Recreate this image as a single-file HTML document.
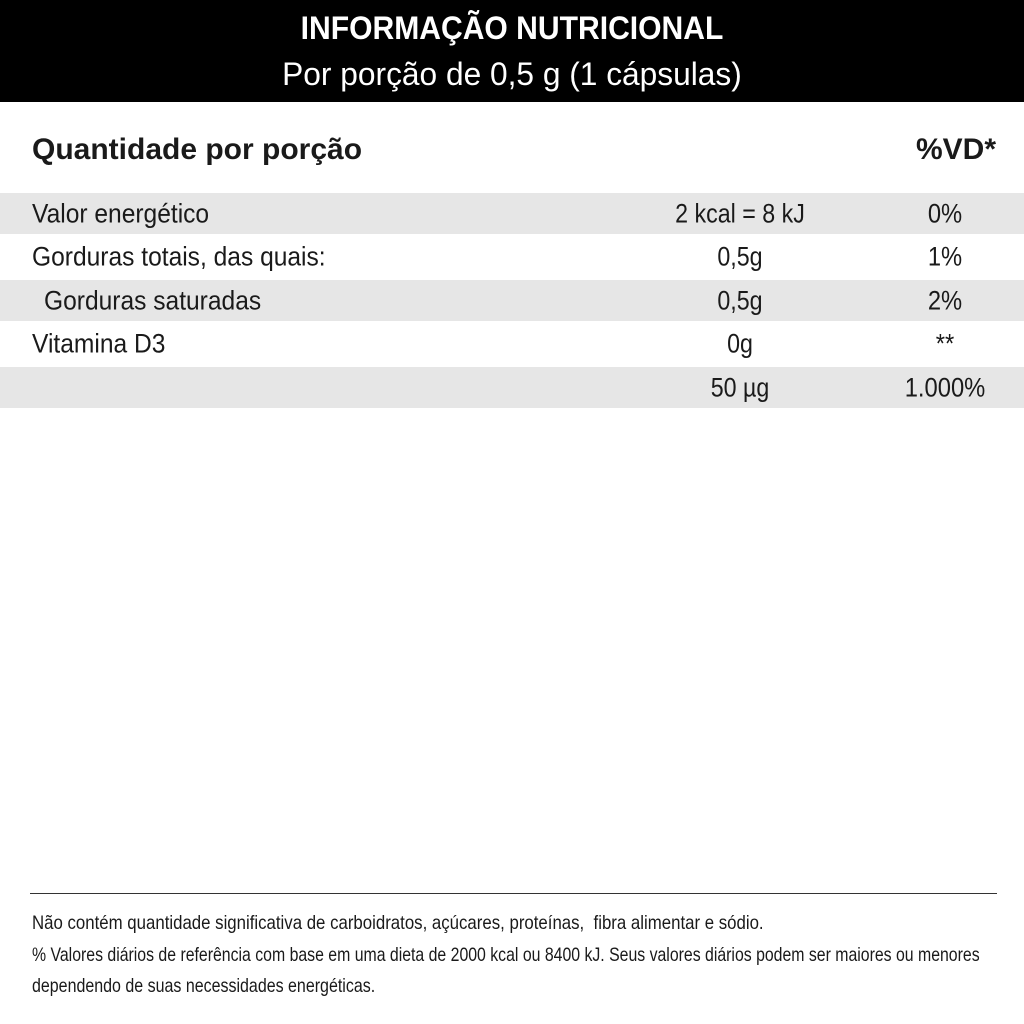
<!DOCTYPE html>
<html><head><meta charset="utf-8"><style>
body{margin:0;width:1024px;height:1024px;background:#fff;font-family:"Liberation Sans",sans-serif;color:#1a1a1a;position:relative;overflow:hidden}
.hdr{position:absolute;left:0;top:0;width:1024px;height:102px;background:#000;color:#fff;text-align:center}
.t1{position:absolute;top:10px;width:100%;font-size:32px;font-weight:bold;transform:scaleX(0.94)}
.t2{position:absolute;top:56px;width:100%;font-size:32px;transform:scaleX(0.99)}
.q{position:absolute;top:133px;left:32px;font-size:30px;font-weight:bold}
.vd{position:absolute;top:133px;right:28px;font-size:30px;font-weight:bold}
.row{position:absolute;left:0;width:1024px;font-size:27px;white-space:nowrap}
.row.g{background:#e6e6e6}
.row span{position:absolute;top:50%}
.a{left:32px;transform:translateY(-50%) scaleX(0.91);transform-origin:left center}
.b{left:740px;transform:translate(-50%,-50%) scaleX(0.86)}
.c{left:945px;transform:translate(-50%,-50%) scaleX(0.88)}
.line{position:absolute;left:30px;top:893px;width:967px;height:1px;background:#333}
.f{position:absolute;left:32px;font-size:19.5px;white-space:nowrap;transform-origin:left top}
</style></head><body>
<div class="hdr">
<div class="t1">INFORMAÇÃO NUTRICIONAL</div>
<div class="t2">Por porção de 0,5 g (1 cápsulas)</div>
</div>
<div class="q">Quantidade por porção</div>
<div class="vd">%VD*</div>
<div class="row g" style="top:193px;height:41px"><span class="a">Valor energético</span><span class="b">2 kcal = 8 kJ</span><span class="c">0%</span></div>
<div class="row" style="top:234px;height:46px"><span class="a">Gorduras totais, das quais:</span><span class="b">0,5g</span><span class="c">1%</span></div>
<div class="row g" style="top:280px;height:41px"><span class="a" style="left:44px">Gorduras saturadas</span><span class="b">0,5g</span><span class="c">2%</span></div>
<div class="row" style="top:321px;height:46px"><span class="a">Vitamina D3</span><span class="b">0g</span><span class="c">**</span></div>
<div class="row g" style="top:367px;height:41px"><span class="b">50 µg</span><span class="c">1.000%</span></div>
<div class="line"></div>
<div class="f" style="top:912px;transform:scaleX(0.862)">Não contém quantidade significativa de carboidratos, açúcares, proteínas,&nbsp; fibra alimentar e sódio.</div>
<div class="f" style="top:944px;transform:scaleX(0.812)">% Valores diários de referência com base em uma dieta de 2000 kcal ou 8400 kJ. Seus valores diários podem ser maiores ou menores</div>
<div class="f" style="top:975px;transform:scaleX(0.82)">dependendo de suas necessidades energéticas.</div>
</body></html>
